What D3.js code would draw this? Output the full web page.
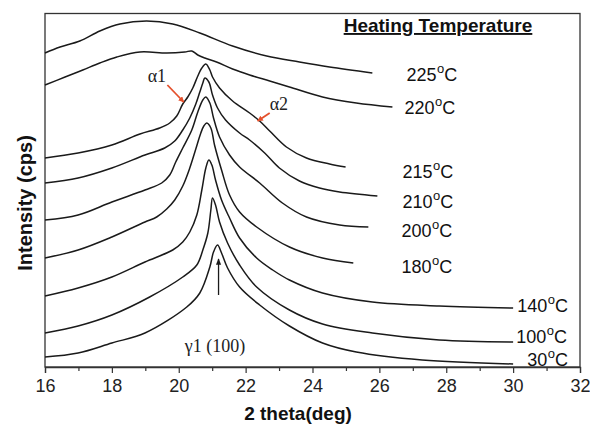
<!DOCTYPE html>
<html>
<head>
<meta charset="utf-8">
<script src="https://cdn.jsdelivr.net/npm/d3@7"></script>
<style>
  html, body { margin: 0; padding: 0; background: #fff; }
  svg { display: block; }
</style>
</head>
<body>
<svg id="chart" width="590" height="428"></svg>
<script>
// ---- data (2θ in degrees, intensity in arbitrary offset units) ----
const temperatures = ["225", "220", "215", "210", "200", "180", "140", "100", "30"];

const s225 = [[16.00,314],[16.45,320],[17.04,326],[17.64,336],[18.24,343],[19.04,346],[19.82,343],[20.63,334],[21.61,321],[22.63,311],[23.61,305],[24.51,300],[25.79,294]];
const s220 = [[16.00,282],[16.60,290],[17.13,297],[17.64,304],[18.15,310],[18.84,315],[19.64,314],[20.18,315],[20.39,316],[20.57,312],[20.78,309],[21.13,305],[21.61,298],[22.12,292],[22.72,286],[23.31,280],[24.30,270],[25.31,264],[26.39,260]];
const s215 = [[16.00,209],[16.99,214],[18.00,222],[18.84,233],[19.43,239],[19.73,244],[19.94,251],[20.12,263],[20.27,270],[20.42,279],[20.57,291],[20.69,299],[20.81,303],[20.93,297],[21.01,290],[21.22,279],[21.61,266],[22.12,254],[22.42,246],[22.72,236],[23.22,220],[23.82,209],[24.51,203],[24.99,200]];
const s210 = [[16.00,184],[16.99,189],[18.00,199],[18.99,212],[19.58,219],[19.88,226],[20.12,237],[20.33,249],[20.51,263],[20.63,275],[20.72,284],[20.78,289],[20.90,285],[21.01,272],[21.16,259],[21.40,247],[21.82,234],[22.12,227],[22.57,214],[23.01,199],[23.61,186],[24.21,179],[24.81,175],[25.94,171]];
const s200 = [[16.00,147],[16.99,152],[18.00,165],[18.99,177],[19.49,184],[19.73,192],[19.91,205],[20.12,219],[20.39,237],[20.57,255],[20.72,267],[20.81,270],[20.93,264],[21.04,249],[21.22,230],[21.52,212],[21.82,200],[22.42,184],[23.10,164],[23.82,150],[24.81,142],[25.67,140]];
const s180 = [[16.00,109],[16.99,117],[18.00,130],[18.99,145],[19.34,150],[19.64,158],[19.88,167],[20.12,181],[20.33,199],[20.51,218],[20.66,234],[20.75,241],[20.84,244],[20.96,239],[21.07,222],[21.28,197],[21.52,172],[21.82,155],[22.33,140],[23.31,120],[24.30,109],[25.22,104]];
const s140 = [[16.00,71],[16.99,79],[18.00,90],[18.99,105],[19.82,117],[20.12,125],[20.33,135],[20.54,152],[20.69,177],[20.81,199],[20.90,207],[20.99,202],[21.10,187],[21.28,167],[21.52,149],[21.82,129],[22.33,109],[22.81,97],[23.31,87],[24.30,74],[25.79,65],[27.79,61],[30.00,59]];
const s100 = [[16.00,34],[16.99,41],[18.00,52],[19.13,70],[20.12,90],[20.54,102],[20.72,117],[20.87,134],[20.96,157],[21.01,169],[21.10,162],[21.22,145],[21.46,124],[21.82,102],[22.33,80],[23.31,57],[24.30,43],[25.79,34],[27.79,27],[30.00,25]];
const s30  = [[16.00,10],[16.99,14],[18.00,24],[18.99,34],[20.24,60],[20.63,74],[20.93,100],[21.04,115],[21.16,122],[21.28,114],[21.46,99],[21.82,80],[22.42,62],[23.31,41],[24.30,24],[25.31,15],[27.28,7],[30.00,3]];

const seriesList = [s225, s220, s215, s210, s200, s180, s140, s100, s30];

const xTicks = [16, 18, 20, 22, 24, 26, 28, 30, 32];
const xMinorTicks = [17, 19, 21, 23, 25, 27, 29, 31];

const xTitle = "2 theta(deg)";
const yTitle = "Intensity (cps)";
const legendTitle = "Heating Temperature";

// ---- layout ----
const W = 590, H = 428;
const plot = { left: 45, right: 580, top: 13.5, bottom: 367 };

const svg = d3.select("#chart");
const x = d3.scaleLinear().domain([16, 32]).range([plot.left, plot.right]);
const y = d3.scaleLinear().domain([0, 353.5]).range([plot.bottom, plot.top]);

const ink = "#1a1a1a";

// frame
svg.append("rect")
  .attr("x", plot.left).attr("y", plot.top)
  .attr("width", plot.right - plot.left).attr("height", plot.bottom - plot.top)
  .attr("fill", "none").attr("stroke", "#333").attr("stroke-width", 1.3);

// bottom axis
const axis = svg.append("g").attr("transform", `translate(0,${plot.bottom})`)
  .call(d3.axisBottom(x).tickValues(xTicks).tickSize(6).tickPadding(6).tickFormat(d3.format("d")));
axis.select(".domain").attr("stroke", "#333").attr("stroke-width", 1.3);
axis.selectAll(".tick line").attr("stroke", "#333").attr("stroke-width", 1.2);
axis.selectAll(".tick text")
  .attr("font-family", "Liberation Sans, Arial, sans-serif")
  .attr("font-size", 18).attr("fill", "#222");

const minor = svg.append("g").attr("transform", `translate(0,${plot.bottom})`)
  .call(d3.axisBottom(x).tickValues(xMinorTicks).tickSize(4).tickFormat(""));
minor.select(".domain").remove();
minor.selectAll(".tick line").attr("stroke", "#333").attr("stroke-width", 1.2);

// axis titles
svg.append("text")
  .attr("x", 298).attr("y", 420)
  .attr("text-anchor", "middle")
  .attr("font-family", "Liberation Sans, Arial, sans-serif")
  .attr("font-weight", "bold").attr("font-size", 19).attr("fill", "#111")
  .text(xTitle);

svg.append("text")
  .attr("transform", `translate(32,203) rotate(-90)`)
  .attr("text-anchor", "middle")
  .attr("font-family", "Liberation Sans, Arial, sans-serif")
  .attr("font-weight", "bold").attr("font-size", 20).attr("fill", "#111")
  .text(yTitle);

// curves
const line = d3.line()
  .x(d => x(d[0])).y(d => y(d[1]))
  .curve(d3.curveCatmullRom.alpha(0.5));

svg.append("g").selectAll("path")
  .data(seriesList)
  .join("path")
  .attr("d", line)
  .attr("fill", "none")
  .attr("stroke", ink)
  .attr("stroke-width", 1.5)
  .attr("stroke-linejoin", "round");

// legend title
svg.append("text")
  .attr("x", 438).attr("y", 32)
  .attr("text-anchor", "middle")
  .attr("font-family", "Liberation Sans, Arial, sans-serif")
  .attr("font-weight", "bold").attr("font-size", 19).attr("fill", "#111")
  .attr("text-decoration", "underline")
  .text(legendTitle);

// temperature labels, anchored in data coordinates
const labelAnchors = [[26.81,286],[26.75,253],[26.69,189],[26.69,159],[26.66,130],[26.66,94],[30.12,55],[30.09,24],[30.42,1]];
const labels = svg.append("g")
  .attr("font-family", "Liberation Sans, Arial, sans-serif")
  .attr("fill", "#111");
temperatures.forEach((t, i) => {
  const a = labelAnchors[i];
  const tx = labels.append("text")
    .attr("x", x(a[0])).attr("y", y(a[1]))
    .attr("font-size", 18);
  tx.append("tspan").text(t);
  tx.append("tspan").attr("font-size", 13).attr("dy", -8).attr("dx", 0.5).text("o");
  tx.append("tspan").attr("dy", 8).text("C");
});

// annotations
const red = "#e4502c";
const defs = svg.append("defs");
defs.append("marker").attr("id", "redhead")
  .attr("viewBox", "0 0 10 10").attr("refX", 9).attr("refY", 5)
  .attr("markerWidth", 3.2).attr("markerHeight", 3.2)
  .attr("markerUnits", "strokeWidth")
  .attr("orient", "auto")
  .append("path").attr("d", "M0,0 L10,5 L0,10 Z").attr("fill", red);
defs.append("marker").attr("id", "blackhead")
  .attr("viewBox", "0 0 10 10").attr("refX", 9).attr("refY", 5)
  .attr("markerWidth", 5).attr("markerHeight", 5)
  .attr("markerUnits", "strokeWidth")
  .attr("orient", "auto")
  .append("path").attr("d", "M0,1 L10,5 L0,9 Z").attr("fill", ink);

const serif = "Liberation Serif, Times New Roman, serif";
svg.append("text").attr("x", x(19.07)).attr("y", y(285))
  .attr("font-family", serif).attr("font-size", 18).attr("fill", "#222").text("α1");
svg.append("text").attr("x", x(22.72)).attr("y", y(257))
  .attr("font-family", serif).attr("font-size", 18).attr("fill", "#222").text("α2");
svg.append("text").attr("x", x(20.18)).attr("y", y(15))
  .attr("font-family", serif).attr("font-size", 18).attr("fill", "#222").text("γ1 (100)");

svg.append("line")
  .attr("x1", x(19.66)).attr("y1", y(282)).attr("x2", x(20.15)).attr("y2", y(265))
  .attr("stroke", red).attr("stroke-width", 1.8).attr("marker-end", "url(#redhead)");
svg.append("line")
  .attr("x1", x(22.72)).attr("y1", y(254)).attr("x2", x(22.36)).attr("y2", y(246))
  .attr("stroke", red).attr("stroke-width", 1.8).attr("marker-end", "url(#redhead)");
svg.append("line")
  .attr("x1", x(21.19)).attr("y1", y(72)).attr("x2", x(21.19)).attr("y2", y(108))
  .attr("stroke", ink).attr("stroke-width", 1.3).attr("marker-end", "url(#blackhead)");
</script>
</body>
</html>
